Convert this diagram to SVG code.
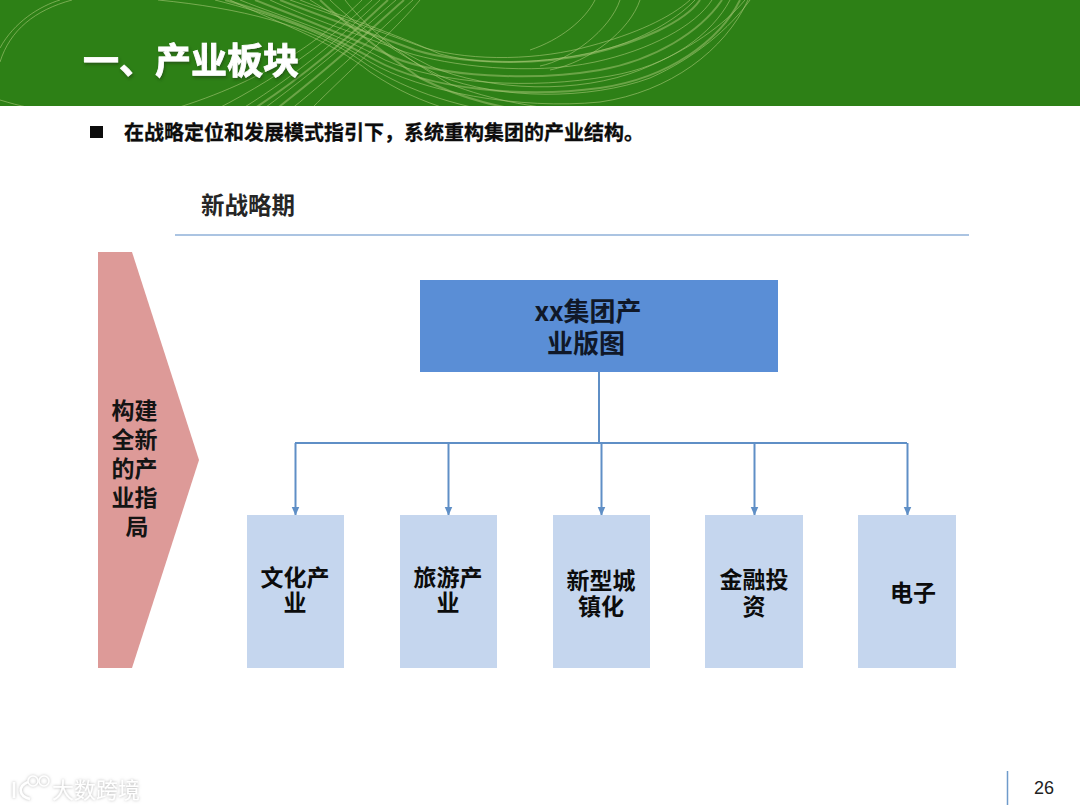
<svg xmlns="http://www.w3.org/2000/svg" width="1080" height="810" viewBox="0 0 1080 810">
<style>
text{font-family:"Noto Sans CJK SC","Liberation Sans",sans-serif;font-weight:700;fill:#0c0c0c;text-anchor:middle}
.s{fill:none;stroke:#a9c878;stroke-width:1;opacity:.6}
.t{fill:none;stroke:#a9c878;stroke-width:2;opacity:.5}
.c{fill:none;stroke:#5f8fc6;stroke-width:2}
.child{fill:#c5d6ee}
</style>
<defs>
<marker id="arr" markerUnits="userSpaceOnUse" markerWidth="10" markerHeight="10" refX="8.5" refY="5" orient="auto"><path d="M0 1L9 5L0 9Z" fill="#5f8fc6"/></marker>
<clipPath id="hc"><rect width="1080" height="106"/></clipPath>
<filter id="sh" x="-10%" y="-20%" width="120%" height="140%"><feDropShadow dx="1" dy="2" stdDeviation="1.5" flood-color="#1a3a10" flood-opacity=".6"/></filter>
<filter id="wm" x="-10%" y="-30%" width="120%" height="160%"><feDropShadow dx="0" dy="0" stdDeviation="1.6" flood-color="#999" flood-opacity=".75"/></filter>
</defs>
<rect width="1080" height="810" fill="#fff"/>
<g id="header">
<rect width="1080" height="106" fill="#2d8016"/>
<g clip-path="url(#hc)">
<path class="s" d="M0 62C10 30 35 10 72 0"/>
<path class="s" d="M0 48C14 22 40 6 60 0"/>
<path class="s" d="M158 0C240 8 310 25 360 60C400 88 450 106 520 116"/>
<path class="s" d="M215 0C270 14 320 30 370 62C420 92 520 110 600 102C670 92 725 50 748 0"/>
<path class="t" d="M225 0C275 14 325 32 375 60C430 90 525 98 600 88C670 78 720 40 740 0"/>
<path class="s" d="M240 0C285 18 330 30 385 60C440 84 530 90 610 76C670 66 712 34 730 0"/>
<path class="t" d="M255 0C290 14 335 30 395 58C440 76 530 82 600 70C655 60 700 32 722 0"/>
<path class="s" d="M270 0C305 16 345 30 405 52C450 66 530 76 595 62C650 50 695 26 712 0"/>
<path class="t" d="M280 0C315 14 350 26 415 50C460 64 535 66 590 54C640 42 685 22 700 0"/>
<path class="s" d="M290 0C325 12 360 24 425 48C475 62 540 60 590 46C635 34 670 18 690 0"/>
<path class="s" d="M300 0C335 14 375 26 440 54C490 68 560 62 610 48C650 36 680 16 695 0"/>
<path class="s" d="M310 0C345 22 380 40 430 66C490 92 580 94 640 70C690 50 725 24 745 0"/>
<path class="s" d="M330 0C355 24 390 50 440 76C500 100 590 100 650 78C695 58 730 28 750 0"/>
<path class="t" d="M320 0C345 24 380 50 420 78C460 98 500 110 570 116"/>
<path class="s" d="M345 0C365 26 400 56 450 84C490 100 540 110 600 112"/>
<path class="s" d="M230 0C280 24 330 40 370 72C400 92 420 100 450 110"/>
<path class="s" d="M413 0C385 25 340 70 290 110"/>
<path class="t" d="M404 0C375 25 340 60 275 110"/>
<path class="s" d="M396 0C368 24 330 60 262 110"/>
<path class="t" d="M388 0C360 25 320 66 252 110"/>
<path class="s" d="M380 0C350 28 305 70 240 110"/>
<path class="s" d="M420 0C395 30 350 70 310 110"/>
<path class="s" d="M372 0C340 30 290 72 215 110"/>
<path class="s" d="M362 0C325 36 270 80 170 110"/>
<path class="s" d="M620 0C610 30 570 60 540 66"/>
<path class="s" d="M640 0C630 30 590 62 550 70"/>
<path class="s" d="M595 0C585 20 560 40 530 50"/>
<path class="s" d="M0 100C20 106 35 110 60 110"/>
</g>
<text x="191" y="74" font-size="36" style="fill:#fff;stroke:#fff;stroke-width:.8" filter="url(#sh)">一、产业板块</text>
</g>
<rect id="bullet" x="90" y="126" width="13" height="12" fill="#0c0c0c"/>
<text x="384" y="140" font-size="20" style="stroke:#0c0c0c;stroke-width:.3">在战略定位和发展模式指引下，系统重构集团的产业结构。</text>
<text x="248" y="214" font-size="23.5" style="fill:#262626">新战略期</text>
<path d="M175 235H969" fill="none" stroke="#8fb0d8" stroke-width="1.5"/>
<g id="side">
<path d="M98 252H132L199 460L132 668H98Z" fill="#dd9a98"/>
<text font-size="23" style="fill:#141414">
<tspan x="137" y="419">构建</tspan>
<tspan x="137" y="448">全新</tspan>
<tspan x="137" y="477">的产</tspan>
<tspan x="137" y="506">业指</tspan>
<tspan x="137" y="535">局</tspan>
</text>
</g>
<g id="connectors">
<path class="c" d="M599 372V443"/>
<path class="c" d="M295 443H907"/>
<path class="c" d="M295.500 443V515" marker-end="url(#arr)"/>
<path class="c" d="M448.500 443V515" marker-end="url(#arr)"/>
<path class="c" d="M601.500 443V515" marker-end="url(#arr)"/>
<path class="c" d="M754.500 443V515" marker-end="url(#arr)"/>
<path class="c" d="M907.500 443V515" marker-end="url(#arr)"/>
</g>
<g id="root">
<rect x="420" y="280" width="358" height="92" fill="#5a8ed6"/>
<text font-size="26" style="fill:#101828"><tspan x="588" y="321">xx集团产</tspan><tspan x="586" y="353">业版图</tspan></text>
</g>
<g id="n1"><rect class="child" x="247" y="515" width="97" height="153"/><text font-size="23"><tspan x="295" y="586">文化产</tspan><tspan x="295" y="611">业</tspan></text></g>
<g id="n2"><rect class="child" x="400" y="515" width="97" height="153"/><text font-size="23"><tspan x="448" y="586">旅游产</tspan><tspan x="448" y="611">业</tspan></text></g>
<g id="n3"><rect class="child" x="553" y="515" width="97" height="153"/><text font-size="23"><tspan x="601" y="589">新型城</tspan><tspan x="601" y="615">镇化</tspan></text></g>
<g id="n4"><rect class="child" x="705" y="515" width="98" height="153"/><text font-size="23"><tspan x="754" y="588">金融投</tspan><tspan x="754" y="615">资</tspan></text></g>
<g id="n5"><rect class="child" x="858" y="515" width="98" height="153"/><text x="913" y="601" font-size="23">电子</text></g>
<g id="footer">
<path d="M1007.500 771V805" stroke="#6f9bcb" stroke-width="1.500" fill="none"/>
<text x="1044" y="794" font-size="18" style="font-family:'Liberation Sans',sans-serif;font-weight:400;fill:#222">26</text>
<text x="96" y="798" font-size="22" style="fill:#fff;font-weight:400" filter="url(#wm)">大数跨境</text>
<g fill="none" stroke="#fff" stroke-width="2.500" filter="url(#wm)">
<path d="M14 782V798M28 782C18 786 18 796 30 799"/>
<circle cx="33" cy="781" r="5" stroke-width="1.500"/><circle cx="44" cy="781" r="5" stroke-width="1.500"/>
</g>
</g>
</svg>
